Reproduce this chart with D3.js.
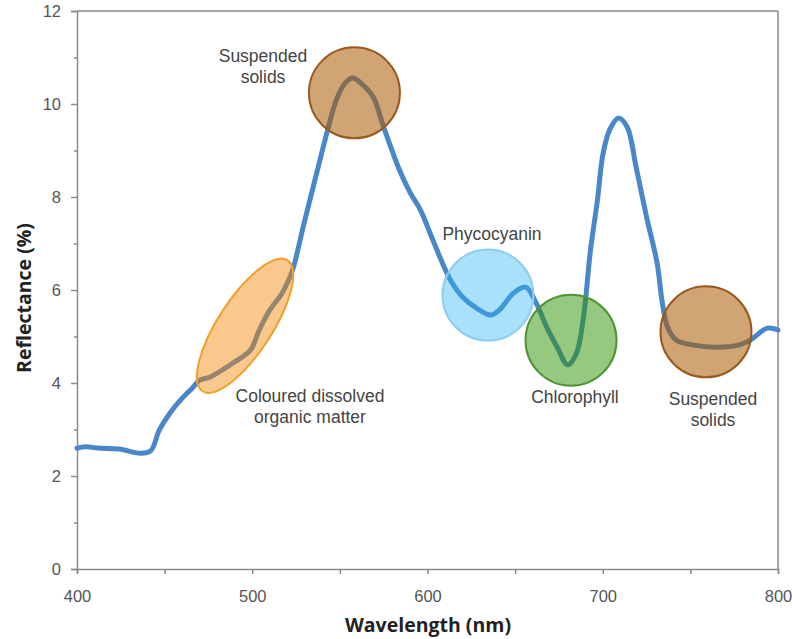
<!DOCTYPE html>
<html>
<head>
<meta charset="utf-8">
<script src="https://cdn.jsdelivr.net/npm/d3@7"></script>
<style>
  body { margin: 0; background: #fff; }
</style>
</head>
<body>
<svg id="chart"></svg>
<script>
// reflectance spectrum
const wavelength = [400,405,412,424,436,442,447,453,459,466,470,476,489,499,504,510,517,523,526,529,536,543,548,553,557.5,562,569,575,584,590,596,603,613,620,628,636,641,649,656,662,668,674,680,685,689,693,697,700,704,709,714,719,725,731,734,737,742,751,765,778,784,794,800];
const reflectance = [2.6,2.63,2.6,2.58,2.49,2.54,2.99,3.35,3.63,3.9,4.06,4.13,4.43,4.71,5.14,5.57,5.93,6.43,6.86,7.35,8.4,9.44,10.09,10.45,10.56,10.45,10.15,9.5,8.58,8.1,7.72,7.08,6.22,5.85,5.61,5.46,5.57,5.93,6.06,5.72,5.2,4.77,4.39,4.64,5.42,6.86,7.94,8.9,9.45,9.7,9.5,8.65,7.57,6.58,5.72,5.2,4.92,4.82,4.77,4.82,4.92,5.18,5.14];

const xTicks = [400,450,500,550,600,650,700,750,800];
const yTicks = [0,1,2,3,4,5,6,7,8,9,10,11,12];

// highlighted features (centre in data units)
const featureNames = ["Suspended solids", "Phycocyanin", "Chlorophyll", "Suspended solids", "Coloured dissolved organic matter"];
const featureWl = [558.3, 634.5, 681.9, 758.9, 495.9];
const featureRefl = [10.24, 5.89, 4.92, 5.10, 5.23];

const width = 792, height = 639;
const margin = {top: 11, right: 14, bottom: 70, left: 77};

const svg = d3.select("#chart")
    .attr("width", width)
    .attr("height", height);

const x = d3.scaleLinear().domain([400, 800]).range([margin.left, width - margin.right]);
const y = d3.scaleLinear().domain([0, 12]).range([height - margin.bottom, margin.top]);

const axisColor = "#8a8a8a";

// frame top + right
svg.append("line")
    .attr("x1", x(400)).attr("x2", x(800))
    .attr("y1", y(12)).attr("y2", y(12))
    .attr("stroke", axisColor).attr("stroke-width", 1.5);
svg.append("line")
    .attr("x1", x(800)).attr("x2", x(800))
    .attr("y1", y(0)).attr("y2", y(12))
    .attr("stroke", axisColor).attr("stroke-width", 1.5);

// x axis
const gx = svg.append("g")
    .attr("transform", `translate(0,${y(0)})`)
    .call(d3.axisBottom(x)
        .tickValues(xTicks)
        .tickSize(5)
        .tickPadding(16)
        .tickFormat(d => d % 100 === 0 ? d : ""));

// y axis
const gy = svg.append("g")
    .attr("transform", `translate(${x(400)},0)`)
    .call(d3.axisLeft(y)
        .tickValues(yTicks)
        .tickSize(6)
        .tickPadding(10)
        .tickFormat(d => d % 2 === 0 ? d : ""));

gy.selectAll(".tick line").attr("x2", d => d % 2 === 0 ? -6 : -3);

[gx, gy].forEach(g => {
    g.select(".domain").attr("stroke", axisColor).attr("stroke-width", 1.5);
    g.selectAll(".tick line").attr("stroke", axisColor).attr("stroke-width", 1.5);
    g.selectAll(".tick text")
        .attr("fill", "#555")
        .attr("font-family", "'Liberation Sans', Arial, sans-serif")
        .attr("font-size", 16.5);
});

// spectrum line
const line = d3.line()
    .x((d, i) => x(wavelength[i]))
    .y(d => y(d))
    .curve(d3.curveCatmullRom.alpha(0.5));

svg.append("path")
    .datum(reflectance)
    .attr("d", line)
    .attr("fill", "none")
    .attr("stroke", "#4a87c8")
    .attr("stroke-width", 5)
    .attr("stroke-linejoin", "round")
    .attr("stroke-linecap", "round");

// feature highlights drawn over the line
const styles = [
    {fill: "#aa5a00", op: 0.55, stroke: "#9a5a1e"},
    {fill: "#2ab4f2", op: 0.4, stroke: "#8ccdf0"},
    {fill: "#2d9100", op: 0.5, stroke: "#4f9535"},
    {fill: "#aa5a00", op: 0.55, stroke: "#9a5a1e"},
    {fill: "#f48500", op: 0.45, stroke: "#f0a028"}
];

featureNames.forEach((name, i) => {
    const cx = x(featureWl[i]), cy = y(featureRefl[i]);
    const s = styles[i];
    if (i === 4) {
        svg.append("ellipse")
            .attr("transform", `translate(${cx},${cy}) rotate(-57)`)
            .attr("rx", 78).attr("ry", 27)
            .attr("fill", s.fill).attr("fill-opacity", s.op)
            .attr("stroke", s.stroke).attr("stroke-width", 2);
    } else {
        svg.append("circle")
            .attr("cx", cx).attr("cy", cy)
            .attr("r", 45.5)
            .attr("fill", s.fill).attr("fill-opacity", s.op)
            .attr("stroke", s.stroke).attr("stroke-width", 2);
    }
});

// feature labels
const labels = [
    {lines: ["Suspended", "solids"], x: 263, y: 62},
    {lines: ["Phycocyanin"], x: 492, y: 240},
    {lines: ["Chlorophyll"], x: 575, y: 403},
    {lines: ["Suspended", "solids"], x: 713, y: 405},
    {lines: ["Coloured dissolved", "organic matter"], x: 310, y: 402}
];

labels.forEach(l => {
    const t = svg.append("text")
        .attr("x", l.x).attr("y", l.y)
        .attr("text-anchor", "middle")
        .attr("fill", "#444")
        .attr("font-family", "'Liberation Sans', Arial, sans-serif")
        .attr("font-size", 17.5);
    l.lines.forEach((s, j) => {
        t.append("tspan").attr("x", l.x).attr("dy", j === 0 ? 0 : 20.5).text(s);
    });
});

// axis titles
svg.append("text")
    .attr("x", 428).attr("y", 632)
    .attr("text-anchor", "middle")
    .attr("font-family", "'Open Sans', sans-serif")
    .attr("font-weight", 700)
    .attr("font-size", 19.5)
    .attr("fill", "#222")
    .text("Wavelength (nm)");

svg.append("text")
    .attr("transform", "translate(31,298) rotate(-90)")
    .attr("text-anchor", "middle")
    .attr("font-family", "'Open Sans', sans-serif")
    .attr("font-weight", 700)
    .attr("font-size", 19.5)
    .attr("fill", "#222")
    .text("Reflectance (%)");
</script>
</body>
</html>
